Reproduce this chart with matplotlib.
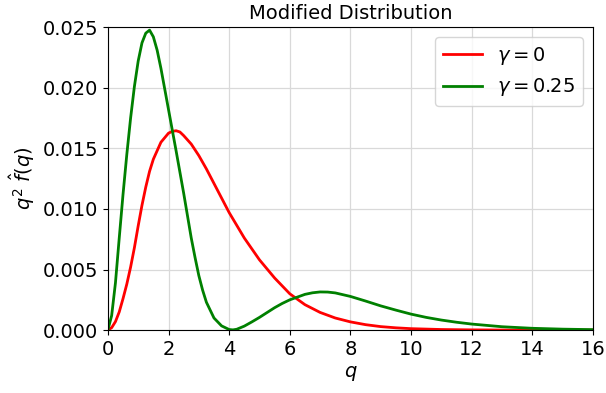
import matplotlib
matplotlib.use("Agg")
import matplotlib.pyplot as plt

# values
q_red = [0, 0.125, 0.25, 0.375, 0.5, 0.625, 0.75, 0.875, 1.0, 1.125, 1.25,
         1.375, 1.5, 1.75, 2.0, 2.125, 2.25, 2.375, 2.5, 2.75, 3.0, 3.25,
         3.5, 3.75, 4.0, 4.5, 5.0, 5.5, 6.0, 6.5, 7.0, 7.5, 8.0, 8.5, 9.0,
         9.5, 10.0, 11.0, 12.0, 13.0, 14.0, 16.0]
f_red = [0, 0.0002, 0.0007, 0.0015, 0.0026, 0.0038, 0.0052, 0.0068,
         0.0086, 0.0103, 0.0118, 0.0131, 0.0141, 0.0155, 0.01625, 0.0164,
         0.01645, 0.01635, 0.01605, 0.01535, 0.0144, 0.0133, 0.0121,
         0.0109, 0.0097, 0.0076, 0.0058, 0.0043, 0.0030, 0.0021, 0.00146,
         0.0010, 0.00068, 0.00045, 0.00029, 0.00019, 0.00012, 0.00005,
         0.00002, 0.000008, 0.000003, 0]

q_green = [0, 0.125, 0.25, 0.375, 0.5, 0.625, 0.75, 0.875, 1.0, 1.125,
           1.25, 1.375, 1.5, 1.625, 1.75, 1.875, 2.0, 2.125, 2.25, 2.5,
           2.75, 2.875, 3.0, 3.125, 3.25, 3.5, 3.75, 4.0, 4.125, 4.25, 4.5,
           4.75, 5.0, 5.25, 5.5, 5.75, 6.0, 6.5, 6.75, 7.0, 7.25, 7.5, 8.0,
           8.5, 9.0, 9.5, 10.0, 10.5, 11.0, 11.5, 12.0, 13.0, 14.0, 15.0,
           16.0]
f_green = [0, 0.0012, 0.0039, 0.0076, 0.0112, 0.0145, 0.0175, 0.0201,
           0.0222, 0.0237, 0.0245, 0.02475, 0.0242, 0.0231, 0.0216, 0.0199,
           0.0182, 0.0165, 0.0148, 0.0113, 0.0076, 0.0060, 0.0045, 0.0033,
           0.0023, 0.0010, 0.00035, 0.00005, 0.00002, 0.00007, 0.00033,
           0.00068, 0.00105, 0.00145, 0.00185, 0.0022, 0.0025, 0.00295,
           0.00308, 0.00315, 0.00314, 0.00307, 0.00278, 0.0024, 0.0020,
           0.00165, 0.00132, 0.00105, 0.00083, 0.00065, 0.0005, 0.00028,
           0.00015, 0.00008, 0.00004]

labels = [r"$\gamma = 0$", r"$\gamma = 0.25$"]
xticks = list(range(0, 17, 2))
yticks = [0.0, 0.005, 0.010, 0.015, 0.020, 0.025]

fig = plt.figure(figsize=(6.06, 3.93), dpi=100)
ax = fig.add_axes([0.178, 0.160, 0.8005, 0.771])

ax.plot(q_red, f_red, color="red", lw=2, label=labels[0])
ax.plot(q_green, f_green, color="green", lw=2, label=labels[1])

ax.set_xlim(0, 16)
ax.set_ylim(0, 0.025)
ax.set_xticks(xticks)
ax.set_yticks(yticks)
ax.set_yticklabels(["%.3f" % t for t in yticks])
ax.tick_params(labelsize=14)
ax.grid(True, color="#d9d9d9", lw=0.9)

ax.set_title("Modified Distribution", fontsize=14)
ax.set_xlabel(r"$q$", fontsize=14)
ax.set_ylabel(r"$q^2\ \hat{f}(q)$", fontsize=14)
ax.legend(loc="upper right", fontsize=14)

fig.savefig("out.png", dpi=100)
